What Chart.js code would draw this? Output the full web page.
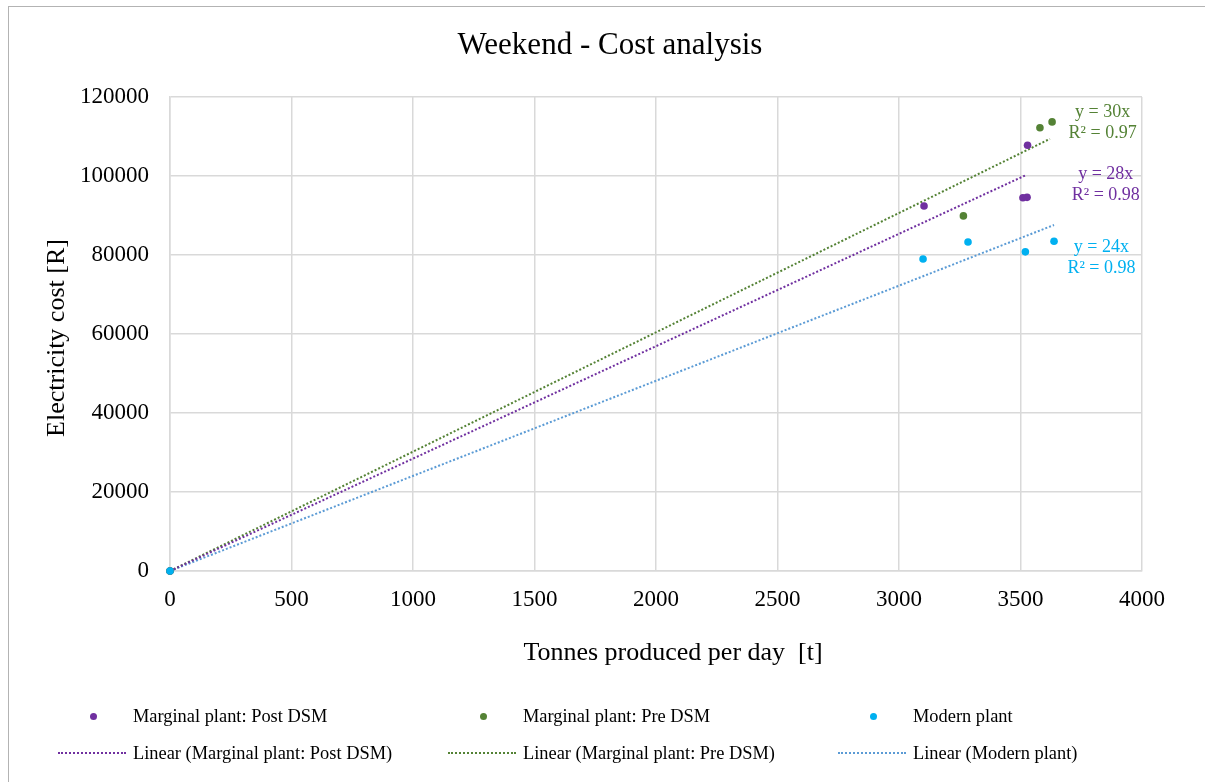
<!DOCTYPE html>
<html>
<head>
<meta charset="utf-8">
<script src="https://cdn.jsdelivr.net/npm/chart.js@4.4.1/dist/chart.umd.min.js"></script>
<style>
  html, body { margin: 0; padding: 0; background: #fff; }
  #wrap { position: relative; width: 1205px; height: 782px; overflow: hidden; }
  #frame { position: absolute; left: 8px; top: 6px; width: 1205px; height: 782px; border-left: 1px solid #b3b3b3; border-top: 1px solid #b3b3b3; }
  #myChart { position: absolute; left: 0; top: 0; }
  .leg { position: absolute; font-family: 'Liberation Serif', 'Times New Roman', serif; font-size: 18.4px; color: #000; white-space: nowrap; line-height: 20px; }
  .dot { position: absolute; width: 7px; height: 7px; border-radius: 50%; }
  .dash { position: absolute; width: 68px; height: 0; border-top: 2px dotted; }
</style>
</head>
<body>
<div id="wrap">
  <div id="frame"></div>
  <canvas id="myChart" width="1205" height="782"></canvas>
  <div id="legend"></div>
</div>
<script>
const ctx = document.getElementById('myChart').getContext('2d');

// Values
const postX = [0, 3103, 3510, 3527, 3529];
const postY = [0, 92400, 94500, 94600, 107800];
const preX = [0, 3265, 3580, 3630];
const preY = [0, 89900, 112200, 113700];
const modernX = [0, 3099, 3284, 3520, 3638];
const modernY = [0, 79000, 83300, 80800, 83500];

// Trendline end points (start at origin)
const trendX = [3525, 3621, 3638];
const trendY = [100300, 109400, 87600];
const trendEq = ['y = 28x', 'y = 30x', 'y = 24x'];
const trendR2 = ['R² = 0.98', 'R² = 0.97', 'R² = 0.98'];

const seriesNames = ['Marginal plant: Post DSM', 'Marginal plant: Pre DSM', 'Modern plant'];
const trendNames = ['Linear (Marginal plant: Post DSM)', 'Linear (Marginal plant: Pre DSM)', 'Linear (Modern plant)'];
const pointColors = ['#7030A0', '#548235', '#00B0F0'];
const trendColors = ['#7030A0', '#548235', '#5B9BD5'];

const xTicks = [0, 500, 1000, 1500, 2000, 2500, 3000, 3500, 4000];
const yTicks = [0, 20000, 40000, 60000, 80000, 100000, 120000];

const chartTitle = 'Weekend - Cost analysis';
const xTitle = 'Tonnes produced per day  [t]';
const yTitle = 'Electricity cost [R]';

const fontFamily = "'Liberation Serif', 'Times New Roman', serif";

function toPoints(xs, ys) {
    return xs.map((x, i) => ({ x: x, y: ys[i] }));
}

const pointSets = [toPoints(postX, postY), toPoints(preX, preY), toPoints(modernX, modernY)];

const datasets = [];
// trendlines underneath the dots
for (let i = 0; i < 3; i++) {
    datasets.push({
        label: trendNames[i],
        data: [{ x: 0, y: 0 }, { x: trendX[i], y: trendY[i] }],
        showLine: true,
        borderColor: trendColors[i],
        borderWidth: 2,
        borderDash: [2, 2],
        pointRadius: 0,
        order: 10 + i
    });
}
for (let i = 0; i < 3; i++) {
    datasets.push({
        label: seriesNames[i],
        data: pointSets[i],
        backgroundColor: pointColors[i],
        borderColor: pointColors[i],
        pointRadius: 3.8,
        pointBorderWidth: 0,
        clip: false,
        order: 3 - i // modern plant ends up on top
    });
}

// Equation labels next to the trendlines (data coordinates)
const eqLabelPos = [
    { x: 3851, y1: 100500, y2: 95200 },
    { x: 3838, y1: 116200, y2: 110900 },
    { x: 3833, y1: 81900, y2: 76700 }
];

const textPlugin = {
    id: 'extraText',
    afterDatasetsDraw(chart) {
        const c = chart.ctx;
        const xs = chart.scales.x;
        const ys = chart.scales.y;
        c.save();
        c.textAlign = 'center';
        c.textBaseline = 'middle';
        c.font = '18px ' + fontFamily;
        for (let i = 0; i < 3; i++) {
            const p = eqLabelPos[i];
            c.fillStyle = pointColors[i];
            c.fillText(trendEq[i], xs.getPixelForValue(p.x), ys.getPixelForValue(p.y1));
            c.fillText(trendR2[i], xs.getPixelForValue(p.x), ys.getPixelForValue(p.y2));
        }
        // chart and axis titles
        c.fillStyle = '#000';
        c.font = '31px ' + fontFamily;
        c.fillText(chartTitle, 610, 46);
        c.font = '26px ' + fontFamily;
        c.fillText(xTitle, 673, 653);
        c.translate(57, 338);
        c.rotate(-Math.PI / 2);
        c.fillText(yTitle, 0, 0);
        c.restore();
    }
};

new Chart(ctx, {
    type: 'scatter',
    data: { datasets: datasets },
    plugins: [textPlugin],
    options: {
        responsive: false,
        animation: false,
        layout: {
            padding: { left: 39, right: 63, top: 97, bottom: 111 }
        },
        scales: {
            x: {
                type: 'linear',
                min: 0,
                max: 4000,
                afterBuildTicks: (scale) => { scale.ticks = xTicks.map(v => ({ value: v })); },
                afterFit: (scale) => { scale.height = 100; },
                ticks: { color: '#000', font: { family: fontFamily, size: 23 }, padding: 15, callback: (v) => String(v) },
                grid: { color: '#d9d9d9', lineWidth: 1.5, drawTicks: false },
                border: { color: '#d9d9d9', width: 1.5 }
            },
            y: {
                type: 'linear',
                min: 0,
                max: 120000,
                afterBuildTicks: (scale) => { scale.ticks = yTicks.map(v => ({ value: v })); },
                afterFit: (scale) => { scale.width = 131; },
                ticks: { color: '#000', font: { family: fontFamily, size: 23 }, padding: 21, callback: (v) => String(v) },
                grid: { color: '#d9d9d9', lineWidth: 1.5, drawTicks: false },
                border: { color: '#d9d9d9', width: 1.5 }
            }
        },
        plugins: {
            legend: { display: false },
            tooltip: { enabled: false },
            title: { display: false }
        }
    }
});

// HTML legend in three columns, two rows
const legendCols = [93, 483, 873];
const legendRows = [716, 753];
const legend = document.getElementById('legend');
for (let i = 0; i < 3; i++) {
    const dot = document.createElement('div');
    dot.className = 'dot';
    dot.style.background = pointColors[i];
    dot.style.left = (legendCols[i] - 3.5) + 'px';
    dot.style.top = (legendRows[0] - 3.5) + 'px';
    legend.appendChild(dot);

    const t1 = document.createElement('div');
    t1.className = 'leg';
    t1.textContent = seriesNames[i];
    t1.style.left = (legendCols[i] + 40) + 'px';
    t1.style.top = (legendRows[0] - 10) + 'px';
    legend.appendChild(t1);

    const dash = document.createElement('div');
    dash.className = 'dash';
    dash.style.borderTopColor = trendColors[i];
    dash.style.left = (legendCols[i] - 35) + 'px';
    dash.style.top = (legendRows[1] - 1) + 'px';
    legend.appendChild(dash);

    const t2 = document.createElement('div');
    t2.className = 'leg';
    t2.textContent = trendNames[i];
    t2.style.left = (legendCols[i] + 40) + 'px';
    t2.style.top = (legendRows[1] - 10) + 'px';
    legend.appendChild(t2);
}
</script>
</body>
</html>
